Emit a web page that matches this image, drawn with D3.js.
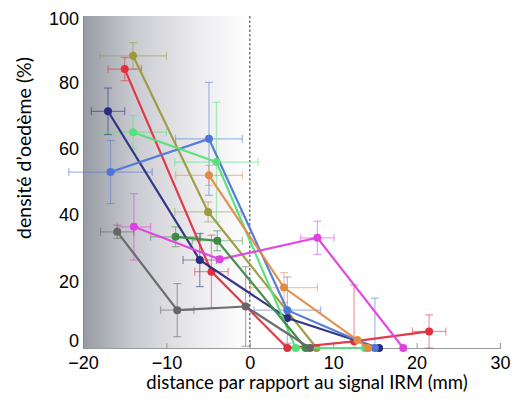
<!DOCTYPE html>
<html>
<head>
<meta charset="utf-8">
<script src="https://cdn.jsdelivr.net/npm/d3@7"></script>
<style>
body { margin: 0; background: #fff; }
svg { display: block; }
</style>
</head>
<body>
<svg id="chart" width="513" height="399"></svg>
<script>
// ---------- data ----------
const xTicks = [-20, -10, 0, 10, 20, 30];
const yTicks = [0, 20, 40, 60, 80, 100];

const seriesNames = ["olive", "red", "navy", "blue", "lightgreen", "orange", "magenta", "darkgreen", "gray"];
const seriesColors = ["#9b9a3e", "#e0303f", "#2b2b82", "#4d77d6", "#55e07a", "#e08c45", "#e040e0", "#3f8a42", "#666666"];

// points: [x, y]; errors: [xerr, yerr]
const olivePts = [[-14, 88], [-5, 41], [8, 0]];
const oliveErr = [[4, 4], [4, 3], [0, 0]];
const redPts = [[-15, 84], [-4.6, 23], [4.5, 0], [12.5, 2], [21.5, 5]];
const redErr = [[2, 3.5], [2, 11], [0, 0], [0, 17], [2, 5]];
const navyPts = [[-17, 71.3], [-6, 26.5], [4.5, 9], [15.5, 0]];
const navyErr = [[2, 7], [2, 8], [0, 0], [0, 0]];
const bluePts = [[-16.7, 53], [-4.9, 63], [4.5, 11.4], [15, 0]];
const blueErr = [[5, 9.5], [4, 17], [4, 10], [0, 15]];
const lightgreenPts = [[-14, 65], [-4, 56], [5.5, 0], [13.8, 0]];
const lightgreenErr = [[4, 5], [5, 18], [0, 0], [0, 0]];
const orangePts = [[-4.9, 52], [4.1, 18.2], [12.9, 2.4], [14.2, 0]];
const orangeErr = [[4, 3], [4, 4.5], [0, 0], [0, 0]];
const magentaPts = [[-13.9, 36.5], [-3.6, 26.7], [8.1, 33.2], [18.4, 0]];
const magentaErr = [[2, 10], [0, 0], [2, 5], [0, 0]];
const darkgreenPts = [[-8.9, 33.5], [-3.9, 32.3], [6.7, 0]];
const darkgreenErr = [[3, 3], [3, 3], [0, 0]];
const grayPts = [[-15.9, 35], [-8.7, 11.4], [-0.5, 12.5], [7.2, 0]];
const grayErr = [[2, 2], [2, 8], [0, 12], [0, 0]];

const allPts = [olivePts, redPts, navyPts, bluePts, lightgreenPts, orangePts, magentaPts, darkgreenPts, grayPts];
const allErr = [oliveErr, redErr, navyErr, blueErr, lightgreenErr, orangeErr, magentaErr, darkgreenErr, grayErr];

const xLabel = "distance par rapport au signal IRM (mm)";
const yLabel = "densité d\u2019oedème (%)";

// ---------- layout ----------
const svg = d3.select("#chart");
const L = 83, R = 500, T = 16, B = 348;
const x = d3.scaleLinear().domain([-20, 30]).range([L, R]);
const y = d3.scaleLinear().domain([0, 100]).range([B, T]);

// gradient background (-20 .. 0)
const defs = svg.append("defs");
const grad = defs.append("linearGradient").attr("id", "bg").attr("x1", "0").attr("x2", "1").attr("y1", "0").attr("y2", "0");
grad.append("stop").attr("offset", "0%").attr("stop-color", "#979aa3");
grad.append("stop").attr("offset", "30%").attr("stop-color", "#c9cad0");
grad.append("stop").attr("offset", "65%").attr("stop-color", "#e9e9ec");
grad.append("stop").attr("offset", "100%").attr("stop-color", "#ffffff");
svg.append("rect")
  .attr("x", x(-20)).attr("y", y(100))
  .attr("width", x(0) - x(-20)).attr("height", y(0) - y(100))
  .attr("fill", "url(#bg)");

// dashed zero line
svg.append("line")
  .attr("x1", x(0)).attr("x2", x(0)).attr("y1", y(100)).attr("y2", y(0))
  .attr("stroke", "#555").attr("stroke-width", 1.2).attr("stroke-dasharray", "2.5,2");

// axes
const xAxis = d3.axisBottom(x).tickValues(xTicks).tickSize(-5).tickPadding(10)
  .tickFormat(d => d < 0 ? "\u2212" + Math.abs(d) : d);
const gx = svg.append("g").attr("transform", `translate(0,${B})`).call(xAxis);
gx.select(".domain").attr("stroke", "#9a9a9a").attr("stroke-width", 1.2);
gx.selectAll(".tick line").attr("stroke", "#9a9a9a");
gx.selectAll("text").attr("font-family", "Liberation Sans, Arial, sans-serif").attr("font-size", 18).attr("fill", "#000").attr("dy", "0.6em");

const yAxis = d3.axisLeft(y).tickValues(yTicks).tickSize(0).tickPadding(4);
const gy = svg.append("g").attr("transform", `translate(${L},0)`).call(yAxis);
gy.select(".domain").attr("stroke", "#8a8a92").attr("stroke-width", 1);
gy.selectAll("text").attr("font-family", "Liberation Sans, Arial, sans-serif").attr("font-size", 18).attr("fill", "#000")
  .attr("y", d => d === 0 ? -7 : (d === 100 ? 3 : 0));

// axis titles
svg.append("text").attr("x", 307).attr("y", 389).attr("text-anchor", "middle")
  .attr("font-family", "Lato, 'Open Sans', sans-serif").attr("font-size", 18.5).attr("fill", "#000")
  .text(xLabel);
svg.append("text").attr("transform", `translate(31,148) rotate(-90)`).attr("text-anchor", "middle")
  .attr("font-family", "Lato, 'Open Sans', sans-serif").attr("font-size", 19.5).attr("fill", "#000")
  .text(yLabel);

// error bars
const cap = 4;
allPts.forEach((pts, si) => {
  const col = seriesColors[si];
  const g = svg.append("g").attr("stroke", col).attr("stroke-opacity", 0.5).attr("stroke-width", 1.2).attr("fill", "none");
  pts.forEach((p, i) => {
    const [ex, ey] = allErr[si][i];
    if (ex > 0) {
      const x1 = x(p[0] - ex), x2 = x(p[0] + ex), yy = y(p[1]);
      g.append("line").attr("x1", x1).attr("x2", x2).attr("y1", yy).attr("y2", yy);
      g.append("line").attr("x1", x1).attr("x2", x1).attr("y1", yy - cap).attr("y2", yy + cap);
      g.append("line").attr("x1", x2).attr("x2", x2).attr("y1", yy - cap).attr("y2", yy + cap);
    }
    if (ey > 0) {
      const lo = Math.max(0, p[1] - ey), hi = Math.min(100, p[1] + ey), xx = x(p[0]);
      g.append("line").attr("x1", xx).attr("x2", xx).attr("y1", y(lo)).attr("y2", y(hi));
      g.append("line").attr("x1", xx - cap).attr("x2", xx + cap).attr("y1", y(hi)).attr("y2", y(hi));
      g.append("line").attr("x1", xx - cap).attr("x2", xx + cap).attr("y1", y(lo)).attr("y2", y(lo));
    }
  });
});

// lines and points
const line = d3.line().x(d => x(d[0])).y(d => y(d[1]));
allPts.forEach((pts, si) => {
  const col = seriesColors[si];
  svg.append("path").datum(pts).attr("d", line)
    .attr("fill", "none").attr("stroke", col).attr("stroke-width", 2.2).attr("stroke-opacity", 0.95);
  svg.append("g").selectAll("circle").data(pts).join("circle")
    .attr("cx", d => x(d[0])).attr("cy", d => y(d[1])).attr("r", 4)
    .attr("fill", col);
});
</script>
</body>
</html>
